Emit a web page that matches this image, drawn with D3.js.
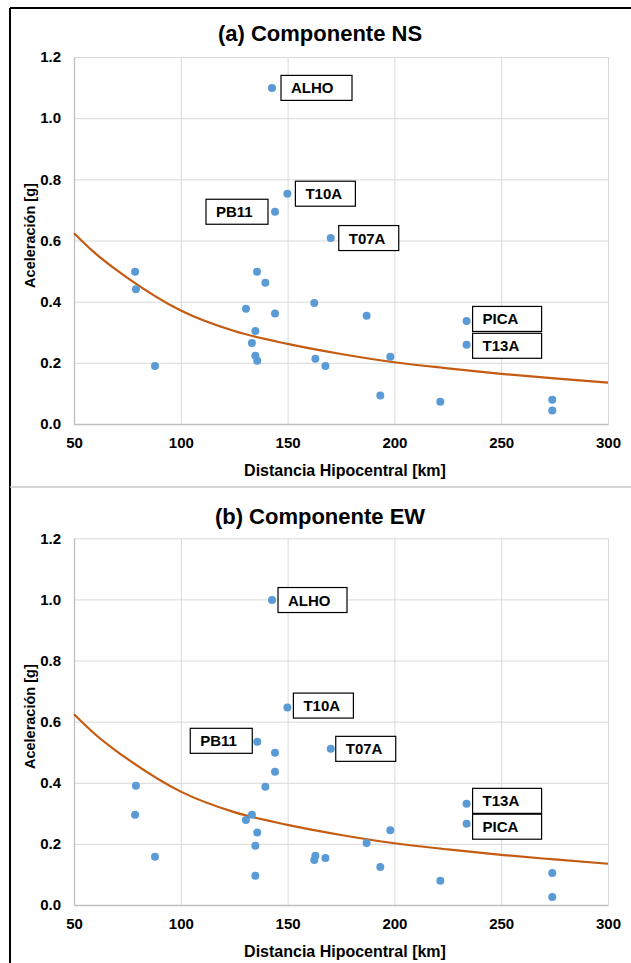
<!DOCTYPE html>
<html>
<head>
<meta charset="utf-8">
<script src="https://cdn.jsdelivr.net/npm/d3@7/dist/d3.min.js"></script>
<style>
  html, body { margin: 0; padding: 0; background: #ffffff; }
  svg { display: block; font-family: "Liberation Sans", Arial, sans-serif; }
</style>
</head>
<body>
<svg id="chart" width="631" height="963"></svg>
<script>
// ---------------- DATA ----------------
const xTicks = [50, 100, 150, 200, 250, 300];
const yTicks = [0.0, 0.2, 0.4, 0.6, 0.8, 1.0, 1.2];

// Panel (a) Componente NS
const distNS = [78.6, 79.0, 87.9, 130.5, 135.7, 139.6, 144.1, 134.9, 133.3, 134.9, 135.8, 144.1, 149.9, 170.2, 162.5, 163.0, 167.7, 187.0, 198.1, 193.4, 142.7, 233.8, 233.8, 221.5, 273.9, 273.9];
const accNS  = [0.498, 0.441, 0.190, 0.377, 0.498, 0.462, 0.361, 0.304, 0.265, 0.223, 0.207, 0.694, 0.753, 0.608, 0.396, 0.213, 0.190, 0.354, 0.220, 0.093, 1.099, 0.337, 0.259, 0.073, 0.079, 0.044];
const nameNS = ["", "", "", "", "", "", "", "", "", "", "", "PB11", "T10A", "T07A", "", "", "", "", "", "", "ALHO", "PICA", "T13A", "", "", ""];

// Panel (b) Componente EW
const distEW = [79.0, 78.6, 87.9, 130.5, 133.3, 135.8, 134.9, 134.9, 135.8, 144.1, 144.1, 139.6, 149.9, 170.2, 163.0, 162.5, 167.7, 187.0, 198.1, 193.4, 142.7, 233.8, 233.8, 221.5, 273.9, 273.9];
const accEW  = [0.390, 0.295, 0.158, 0.278, 0.295, 0.237, 0.194, 0.096, 0.534, 0.498, 0.436, 0.387, 0.646, 0.511, 0.161, 0.147, 0.154, 0.203, 0.245, 0.124, 0.998, 0.331, 0.266, 0.079, 0.105, 0.026];
const nameEW = ["", "", "", "", "", "", "", "", "PB11", "", "", "", "T10A", "T07A", "", "", "", "", "", "", "ALHO", "T13A", "PICA", "", "", ""];

// Attenuation curve (same in both panels)
const curveDist = [50, 60, 70, 75, 100, 125, 150, 175, 200, 225, 250, 275, 300];
const curveAcc  = [0.624, 0.558, 0.503, 0.478, 0.371, 0.304, 0.262, 0.229, 0.202, 0.182, 0.164, 0.149, 0.135];

// ---------------- LAYOUT (px) ----------------
const labelLayoutNS = {
  ALHO: { side: "right", gap: 9, w: 71, dy: 0 },
  T10A: { side: "right", gap: 8, w: 60, dy: 0 },
  PB11: { side: "left",  gap: 7, w: 62, dy: 0 },
  T07A: { side: "right", gap: 8, w: 60, dy: 0 },
  PICA: { side: "right", gap: 6, w: 69, dy: -2 },
  T13A: { side: "right", gap: 6, w: 69, dy: 1 }
};
const labelLayoutEW = {
  ALHO: { side: "right", gap: 6, w: 69, dy: 0 },
  T10A: { side: "right", gap: 6, w: 60, dy: -2 },
  PB11: { side: "left",  gap: 5, w: 62, dy: -1 },
  T07A: { side: "right", gap: 5, w: 60, dy: 0 },
  T13A: { side: "right", gap: 6, w: 69, dy: -3 },
  PICA: { side: "right", gap: 6, w: 69, dy: 3 }
};

const panels = [
  { title: "(a) Componente NS", dist: distNS, acc: accNS, names: nameNS, layout: labelLayoutNS,
    top: 57, bottom: 424, titleY: 41 },
  { title: "(b) Componente EW", dist: distEW, acc: accEW, names: nameEW, layout: labelLayoutEW,
    top: 538.3, bottom: 905, titleY: 524 }
];

const svg = d3.select("#chart");
const plotLeft = 74, plotRight = 608;

// Outer frame lines
svg.append("line").attr("x1", 10).attr("x2", 10).attr("y1", 8).attr("y2", 963)
  .attr("stroke", "#000").attr("stroke-width", 2);
svg.append("line").attr("x1", 10).attr("x2", 631).attr("y1", 8).attr("y2", 8)
  .attr("stroke", "#000").attr("stroke-width", 2);
svg.append("line").attr("x1", 10).attr("x2", 631).attr("y1", 487).attr("y2", 487)
  .attr("stroke", "#c8c8c8").attr("stroke-width", 1.5);

panels.forEach(p => {
  const x = d3.scaleLinear().domain([50, 300]).range([plotLeft, plotRight]);
  const y = d3.scaleLinear().domain([0, 1.2]).range([p.bottom, p.top]);
  const g = svg.append("g");

  // Title
  g.append("text").attr("x", 320).attr("y", p.titleY).attr("text-anchor", "middle")
    .attr("font-size", 22).attr("font-weight", "bold").attr("fill", "#000").text(p.title);

  // Gridlines
  g.append("g").attr("transform", `translate(0,${p.bottom})`)
    .call(d3.axisBottom(x).tickValues(xTicks).tickSize(-(p.bottom - p.top)).tickFormat(""))
    .call(a => a.select(".domain").remove())
    .call(a => a.selectAll("line").attr("stroke", "#d9d9d9").attr("stroke-width", 1));
  g.append("g").attr("transform", `translate(${plotLeft},0)`)
    .call(d3.axisLeft(y).tickValues(yTicks).tickSize(-(plotRight - plotLeft)).tickFormat(""))
    .call(a => a.select(".domain").remove())
    .call(a => a.selectAll("line").attr("stroke", "#d9d9d9").attr("stroke-width", 1));

  // Axes lines and labels
  const xa = g.append("g").attr("transform", `translate(0,${p.bottom})`)
    .call(d3.axisBottom(x).tickValues(xTicks).tickSize(0).tickPadding(13).tickFormat(d3.format("d")));
  xa.select(".domain").attr("stroke", "#bfbfbf").attr("stroke-width", 1.3);
  xa.selectAll("text").attr("font-size", 15).attr("font-weight", "bold").attr("fill", "#000")
    .attr("font-family", "Liberation Sans, Arial, sans-serif");

  const ya = g.append("g").attr("transform", `translate(${plotLeft},0)`)
    .call(d3.axisLeft(y).tickValues(yTicks).tickSize(0).tickPadding(13).tickFormat(d3.format(".1f")));
  ya.select(".domain").attr("stroke", "#bfbfbf").attr("stroke-width", 1.3);
  ya.selectAll("text").attr("font-size", 15).attr("font-weight", "bold").attr("fill", "#000")
    .attr("font-family", "Liberation Sans, Arial, sans-serif");

  // Axis titles
  g.append("text").attr("x", 345).attr("y", p.bottom + 52).attr("text-anchor", "middle")
    .attr("font-size", 16).attr("font-weight", "bold").attr("fill", "#000")
    .text("Distancia Hipocentral [km]");
  const cy = (p.top + p.bottom) / 2 - 5;
  g.append("text").attr("transform", `translate(35,${cy}) rotate(-90)`).attr("text-anchor", "middle")
    .attr("font-size", 14.5).attr("font-weight", "bold").attr("fill", "#000")
    .text("Aceleración [g]");

  // Curve
  const line = d3.line().x(d => x(d[0])).y(d => y(d[1])).curve(d3.curveMonotoneX);
  g.append("path").datum(curveDist.map((d, i) => [d, curveAcc[i]]))
    .attr("d", line).attr("fill", "none").attr("stroke", "#c55a11").attr("stroke-width", 2.2);

  // Points
  const pts = p.dist.map((d, i) => ({ d, a: p.acc[i], n: p.names[i] }));
  g.selectAll("circle.pt").data(pts).enter().append("circle")
    .attr("class", "pt").attr("cx", d => x(d.d)).attr("cy", d => y(d.a)).attr("r", 4)
    .attr("fill", "#5b9bd5");

  // Labels
  pts.filter(d => d.n).forEach(d => {
    const L = p.layout[d.n];
    const px = x(d.d), py = y(d.a) + L.dy;
    const bx = L.side === "right" ? px + L.gap : px - L.gap - L.w;
    const h = 25;
    g.append("rect").attr("x", bx).attr("y", py - h / 2).attr("width", L.w).attr("height", h)
      .attr("fill", "#fff").attr("stroke", "#000").attr("stroke-width", 1.2);
    g.append("text").attr("x", bx + 10).attr("y", py + 5.5)
      .attr("font-size", 15).attr("font-weight", "bold").attr("fill", "#000").text(d.n);
  });
});
</script>
</body>
</html>
